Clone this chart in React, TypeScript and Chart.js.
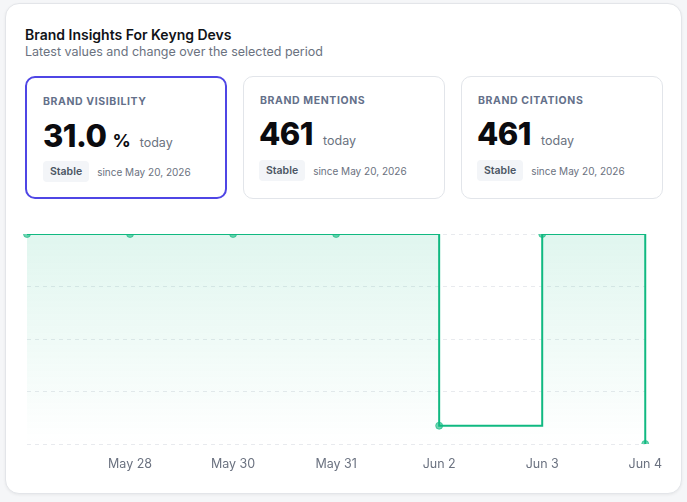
import React, { useEffect, useRef } from "react";
import { Chart, registerables } from "chart.js";

Chart.register(...registerables);

const categories = ["May 27", "May 28", "May 30", "May 31", "Jun 2", "Jun 3", "Jun 4"];
const visibilityValues = [31.0, 31.0, 31.0, 31.0, 2.7, 31.0, 0];
const hiddenTickIndex = [0];

const cardTitles = ["BRAND VISIBILITY", "BRAND MENTIONS", "BRAND CITATIONS"];
const cardValues = ["31.0", "461", "461"];
const cardUnits = ["%", "", ""];
const cardStatus = ["Stable", "Stable", "Stable"];
const sinceText = "since May 20, 2026";

const FONT = "Inter, 'Noto Sans', sans-serif";

function MetricCard({ i }: { i: number }) {
  const active = i === 0;
  const left = 25 + i * 218;
  return (
    <div
      style={{
        position: "absolute",
        left,
        top: 76,
        width: 202,
        height: 123,
        boxSizing: "border-box",
        border: active ? "2px solid #4f46e5" : "1px solid #e2e5ea",
        borderRadius: 10,
        background: "#fff",
      }}
    >
      <div
        style={{
          position: "absolute",
          left: 16,
          top: 17,
          fontSize: 10.5,
          fontWeight: 700,
          letterSpacing: 0.6,
          color: "#64708a",
          whiteSpace: "nowrap",
        }}
      >
        {cardTitles[i]}
      </div>
      <div
        style={{
          position: "absolute",
          left: active ? 16 : 15,
          top: active ? 39 : 38,
          display: "flex",
          alignItems: "baseline",
          whiteSpace: "nowrap",
        }}
      >
        <span style={{ fontSize: 31, fontWeight: 800, color: "#0b0b0f", letterSpacing: -0.5 }}>{cardValues[i]}</span>
        {cardUnits[i] ? (
          <span style={{ fontSize: 18, fontWeight: 700, color: "#0b0b0f", marginLeft: 6 }}>{cardUnits[i]}</span>
        ) : null}
        <span style={{ fontSize: 12.5, color: "#6b7280", marginLeft: cardUnits[i] ? 9 : 10 }}>today</span>
      </div>
      <div
        style={{
          position: "absolute",
          left: active ? 16 : 15,
          top: 83,
          display: "flex",
          alignItems: "center",
          whiteSpace: "nowrap",
        }}
      >
        <span
          style={{
            background: "#f3f5f8",
            borderRadius: 4,
            padding: "4px 7px",
            fontSize: 10.5,
            fontWeight: 600,
            color: "#4b5563",
          }}
        >
          {cardStatus[i]}
        </span>
        <span style={{ fontSize: 10, color: "#6b7280", marginLeft: 8 }}>{sinceText}</span>
      </div>
    </div>
  );
}

export default function App() {
  const canvasRef = useRef<HTMLCanvasElement | null>(null);

  useEffect(() => {
    const canvas = canvasRef.current;
    if (!canvas) return;
    const ctx = canvas.getContext("2d")!;
    const chart = new Chart(ctx, {
      type: "line",
      data: {
        labels: categories,
        datasets: [
          {
            data: visibilityValues,
            stepped: true,
            borderColor: "#10b981",
            borderWidth: 2,
            pointRadius: 3.5,
            pointHoverRadius: 3.5,
            pointBackgroundColor: "rgba(16,185,129,0.6)",
            pointBorderColor: "rgba(16,185,129,0.6)",
            pointBorderWidth: 1,
            fill: true,
            backgroundColor: (c: any) => {
              const area = c.chart.chartArea;
              if (!area) return "rgba(16,185,129,0.1)";
              const g = c.chart.ctx.createLinearGradient(0, area.top, 0, area.bottom);
              g.addColorStop(0, "rgba(16,185,129,0.13)");
              g.addColorStop(1, "rgba(16,185,129,0.0)");
              return g;
            },
          },
        ],
      },
      options: {
        animation: false,
        responsive: true,
        maintainAspectRatio: false,
        layout: { padding: { left: 7, right: 10, top: 10, bottom: 12 } },
        plugins: { legend: { display: false }, tooltip: { enabled: false } },
        scales: {
          x: {
            grid: { display: false, drawTicks: false },
            border: { display: false },
            ticks: {
              padding: 13,
              color: "#6b7280",
              font: { family: FONT, size: 12.5 },
              autoSkip: false,
              maxRotation: 0,
              callback: function (this: any, _v: any, idx: number) {
                return hiddenTickIndex.includes(idx) ? "" : categories[idx];
              },
            },
          },
          y: {
            display: true,
            min: 0,
            max: 31,
            ticks: { display: false, count: 5 },
            grid: { color: "#e8eaee", drawTicks: false, lineWidth: 1 },
            border: { display: false, dash: [4, 4] },
          },
        },
      },
    });
    return () => chart.destroy();
  }, []);

  return (
    <div
      style={{
        position: "fixed",
        inset: 0,
        background: "#f5f6f8",
        fontFamily: FONT,
      }}
    >
      <div
        style={{
          position: "absolute",
          left: 5,
          top: 3,
          width: 677,
          height: 491,
          boxSizing: "border-box",
          background: "#fff",
          border: "1px solid #e3e5e9",
          borderRadius: 14,
          boxShadow: "0 1px 3px rgba(0,0,0,0.06)",
        }}
      />
      <div
        style={{
          position: "absolute",
          left: 25,
          top: 26,
          fontSize: 14,
          fontWeight: 600,
          color: "#111318",
          whiteSpace: "nowrap",
        }}
      >
        Brand Insights For Keyng Devs
      </div>
      <div
        style={{
          position: "absolute",
          left: 25,
          top: 44,
          fontSize: 12.5,
          color: "#6b7280",
          whiteSpace: "nowrap",
        }}
      >
        Latest values and change over the selected period
      </div>
      {[0, 1, 2].map((i) => (
        <MetricCard key={i} i={i} />
      ))}
      <div style={{ position: "absolute", left: 14, top: 224, width: 661, height: 273 }}>
        <canvas ref={canvasRef} />
      </div>
    </div>
  );
}
